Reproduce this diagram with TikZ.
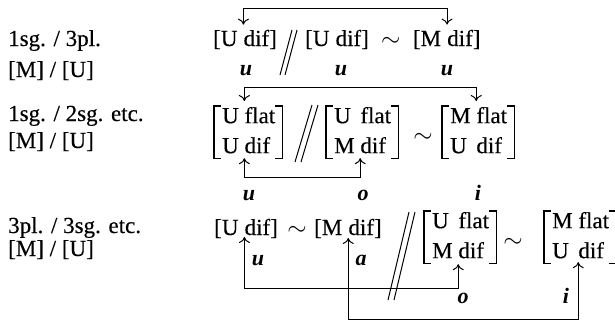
\documentclass[tikz,border=0pt]{standalone}
\usepackage{fontspec}
\setmainfont{Liberation Serif}[UprightFeatures={FakeBold=0.3}]
\usetikzlibrary{arrows.meta, positioning, matrix}

% square brackets round a two-row matrix
\newcommand{\mbrackets}[1]{%
  \draw[brk] ([xshift=-1pt, yshift=2pt]#1.north west) -- ([xshift=-8pt, yshift=2pt]#1.north west)
    -- ([xshift=-8pt, yshift=-2pt]#1.south west) -- ([xshift=-1pt, yshift=-2pt]#1.south west);
  \draw[brk] ([xshift=0pt, yshift=2pt]#1.north east) -- ([xshift=7pt, yshift=2pt]#1.north east)
    -- ([xshift=7pt, yshift=-2pt]#1.south east) -- ([xshift=0pt, yshift=-2pt]#1.south east);
}

\begin{document}
\begin{tikzpicture}[x=1pt, y=-1pt, font=\fontsize{23}{27}\selectfont,
    >={Computer Modern Rightarrow[length=6pt, width=11pt]},
    txt/.style={inner sep=0pt, anchor=base west},
    vow/.style={inner sep=0pt, anchor=base, font=\fontsize{22}{26}\selectfont\bfseries\itshape},
    link/.style={<->, line width=1pt},
    slash/.style={line width=1pt},
    brk/.style={line width=1.3pt, line join=miter},
    mtx/.style={matrix of nodes, inner sep=0pt, anchor=north west,
      column sep=5.75pt, row sep=12pt,
      nodes={inner sep=0pt, anchor=base west, text height=15pt, text depth=3pt}},
    node distance=5.75pt]

    \path[use as bounding box, clip] (0,0) rectangle (615,325);

    % Left column (forms / vowels)
    \node[txt] (g1) at (8,46) {1sg. / 3pl.};
    \node[txt] (v1) at (8,77) {[M] / [U]};
    \node[txt] (g2) at (8,121) {1sg. / 2sg. etc.};
    \node[txt] (v2) at (8,148) {[M] / [U]};
    \node[txt] (g3) at (8,233) {3pl. / 3sg. etc.};
    \node[txt] (v3) at (8,256) {[M] / [U]};

    % Row 1
    \node[txt] (r1au) at (213,46) {[U};
    \node[txt, base right=of r1au] (r1ad) {dif]};
    \node[txt] (r1bu) at (305,46) {[U};
    \node[txt, base right=of r1bu] (r1bd) {dif]};
    \node[txt, base right=12pt of r1bd] (r1s) {$\sim$};
    \node[txt, base right=12pt of r1s] (r1cu) {[M};
    \node[txt, base right=of r1cu] (r1cd) {dif]};
    \draw[slash] (280,75) -- (292,30) (285,75) -- (297,30);

    \node[vow] (r1v1) at (246,75) {u};
    \node[vow] (r1v2) at (341,75) {u};
    \node[vow] (r1v3) at (447,75) {u};

    % Row 2
    \matrix (r2a) [mtx] at (222,108) {U & flat \\ U & dif \\};
    \matrix (r2b) [mtx] at (334,108) {U & flat \\ M & dif \\};
    \matrix (r2c) [mtx] at (450,108) {M & flat \\ U & dif \\};
    \mbrackets{r2a}
    \mbrackets{r2b}
    \mbrackets{r2c}
    \node (r2s) at (423,138) {$\sim$};
    \draw[slash] (295,162) -- (312,105) (301,162) -- (318,105);

    \node[vow] (r2v1) at (249,200) {u};
    \node[vow] (r2v2) at (363,200) {o};
    \node[vow] (r2v3) at (478,200) {i};

    % Row 3
    \node[txt] (r3au) at (214,235) {[U};
    \node[txt, base right=of r3au] (r3ad) {dif]};
    \node[anchor=base, inner sep=0pt] (r3s1) at (297,235) {$\sim$};
    \node[txt] (r3bu) at (314,235) {[M};
    \node[txt, base right=of r3bu] (r3bd) {dif]};
    \matrix (r3c) [mtx] at (432,213) {U & flat \\ M & dif \\};
    \node (r3s2) at (513,243) {$\sim$};
    \matrix (r3d) [mtx] at (552,213) {M & flat \\ U & dif \\};
    \mbrackets{r3c}
    \mbrackets{r3d}
    \draw[slash] (388,300) -- (409,212) (394,300) -- (415,212);

    \node[vow] (r3v1) at (258,265) {u};
    \node[vow] (r3v2) at (361,265) {a};
    \node[vow] (r3v3) at (463,303) {o};
    \node[vow] (r3v4) at (566,303) {i};

    % Connectors
    \coordinate (h1) at (0,8);
    \coordinate (h2) at (0,87);
    \coordinate (h3) at (0,177);
    \coordinate (h4) at (0,288);
    \coordinate (h5) at (0,319);
    \draw[link, shorten <=5pt, shorten >=5pt] (r1ad.north west) -- (r1ad.north west |- h1) -| (r1cd.north west);
    \draw[link, shorten <=7pt, shorten >=7pt] (r2a-1-2.north west) -- (r2a-1-2.north west |- h2) -| (r2c-1-2.north west);
    \draw[link, shorten <=5pt, shorten >=5pt] (r2a-2-2.base west) -- (r2a-2-2.base west |- h3) -| (r2b-2-2.base west);
    \draw[link, shorten <=2pt, shorten >=6pt] (r3ad.base west) -- (r3ad.base west |- h4) -| (r3c-2-2.base west);
    \draw[link, shorten <=3pt, shorten >=4pt] (r3bd.base west) -- (r3bd.base west |- h5) -| (r3d-2-2.base west);
\end{tikzpicture}
\end{document}
